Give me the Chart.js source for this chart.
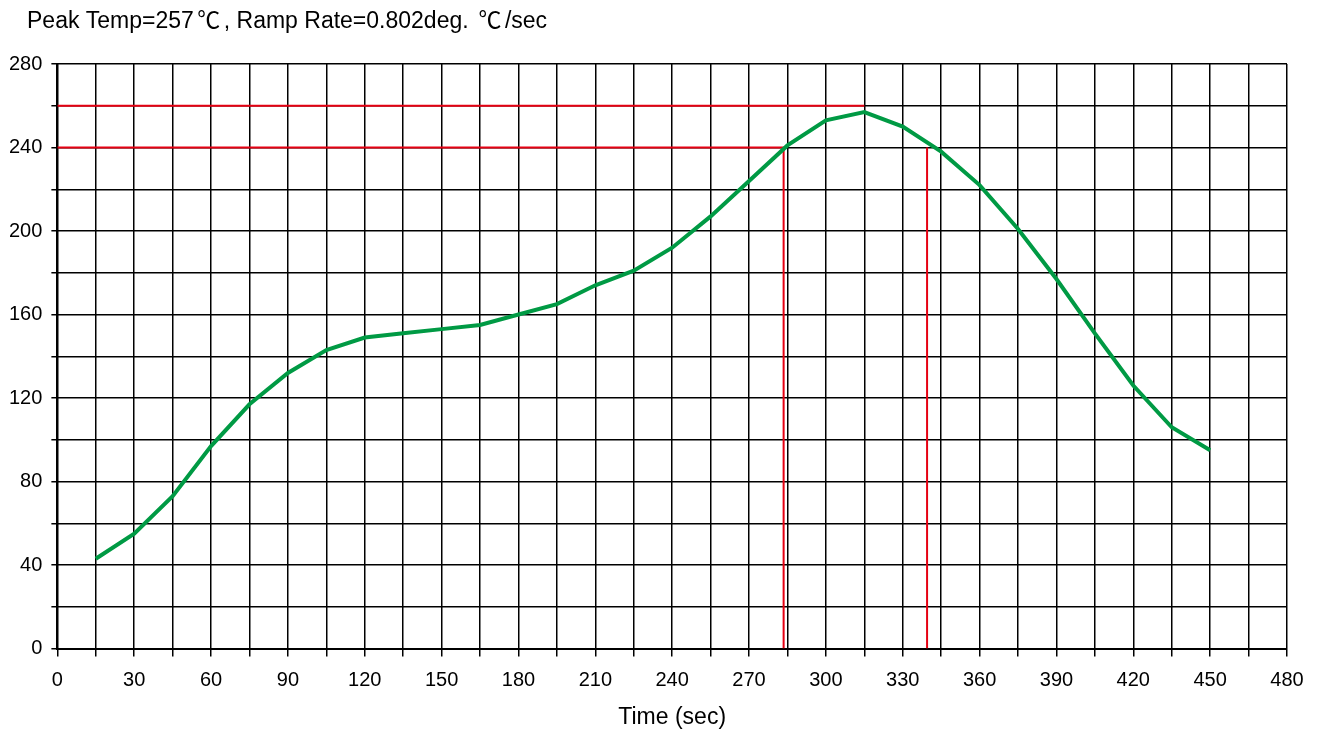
<!DOCTYPE html>
<html>
<head>
<meta charset="utf-8">
<title>Reflow profile</title>
<script src="https://cdn.jsdelivr.net/npm/chart.js@4.4.1/dist/chart.umd.min.js"></script>
<style>
  html, body { margin: 0; padding: 0; background: #fff; }
  #wrap { width: 1319px; height: 731px; }
</style>
</head>
<body>
<div id="wrap"><canvas id="profile" width="1319" height="731"></canvas></div>
<script>
// Profile samples (sec / deg C)
const times = [15, 30, 45, 60, 75, 90, 105, 120, 135, 150, 165, 180, 195, 210, 225,
               240, 255, 270, 285, 300, 315, 330, 345, 360, 375, 390, 405, 420, 435, 450];
const temps = [43, 55, 73, 97, 117, 132, 143, 149, 151, 153, 155, 160, 165, 174, 181,
               192, 207, 224, 241, 253, 257, 250, 238, 222, 201, 177, 151, 126, 106, 95];

// Red reference lines
const peakLevel = 260;
const peakTime = 315;
const liquidusLevel = 240;
const crossTimes = [283.5, 339.5];

// title pieces: the degree sign is a full-width glyph in the original
const titleParts = ['Peak Temp=257', '\u2103', ', Ramp Rate=0.802deg. ', '\u2103', '/sec'];

const green = '#009a44';
const red = '#e60012';
const fontFamily = '"Liberation Sans", Arial, sans-serif';
const cjkFamily = '"Noto Sans CJK SC", "Liberation Sans", sans-serif';

Chart.defaults.font.family = fontFamily;
Chart.defaults.color = '#000';

// title sits left of the plot, so draw it by hand
const titlePlugin = {
    id: 'topTitle',
    afterDraw(chart) {
        const ctx = chart.ctx;
        const size = 23;
        ctx.save();
        ctx.fillStyle = '#000';
        ctx.textBaseline = 'alphabetic';
        let x = 27;
        titleParts.forEach(part => {
            const wide = part === '\u2103';
            ctx.font = size + 'px ' + (wide ? cjkFamily : fontFamily);
            const w = ctx.measureText(part).width;
            if (wide) {
                const cell = Math.max(w, size * 1.3);
                ctx.fillText(part, x + (cell - w) / 2, 28);
                x += cell;
            } else {
                ctx.fillText(part, x, 28);
                x += w;
            }
        });
        ctx.restore();
    }
};

const profilePoints = times.map((t, i) => ({ x: t, y: temps[i] }));

const refLine = {
    borderColor: red,
    borderWidth: 2,
    pointRadius: 0,
    fill: false,
    tension: 0
};

new Chart(document.getElementById('profile'), {
    type: 'line',
    data: {
        datasets: [{
            label: 'Profile',
            data: profilePoints,
            borderColor: green,
            borderWidth: 4,
            pointRadius: 0,
            fill: false,
            tension: 0
        }, {
            ...refLine,
            data: [{ x: 0, y: peakLevel }, { x: peakTime, y: peakLevel }]
        }, {
            ...refLine,
            data: [{ x: 0, y: liquidusLevel }, { x: crossTimes[0], y: liquidusLevel }, { x: crossTimes[0], y: 0 }]
        }, {
            ...refLine,
            data: [{ x: crossTimes[1], y: liquidusLevel }, { x: crossTimes[1], y: 0 }]
        }]
    },
    options: {
        responsive: false,
        animation: false,
        devicePixelRatio: 1,
        layout: {
            padding: { left: 0, right: 32, top: 64, bottom: 0 }
        },
        plugins: {
            legend: { display: false },
            tooltip: { enabled: false },
            title: { display: false }
        },
        scales: {
            x: {
                type: 'linear',
                min: 0,
                max: 480,
                grid: {
                    color: '#000',
                    lineWidth: 1.5,
                    tickLength: 8
                },
                border: { color: '#000', width: 2 },
                ticks: {
                    stepSize: 15,
                    autoSkip: false,
                    maxRotation: 0,
                    padding: 12,
                    font: { size: 20 },
                    color: '#000',
                    callback: v => (v % 30 === 0 ? v : '')
                },
                title: {
                    display: true,
                    text: 'Time (sec)',
                    font: { size: 23, lineHeight: 1.15 },
                    color: '#000',
                    padding: { top: 0, bottom: 0 }
                }
            },
            y: {
                min: 0,
                max: 280,
                grid: {
                    color: '#000',
                    lineWidth: 1.5,
                    tickLength: 6
                },
                border: { color: '#000', width: 2 },
                ticks: {
                    stepSize: 20,
                    autoSkip: false,
                    padding: 9,
                    font: { size: 20 },
                    color: '#000',
                    callback: v => (v % 40 === 0 ? v : '')
                }
            }
        }
    },
    plugins: [titlePlugin]
});
</script>
</body>
</html>
